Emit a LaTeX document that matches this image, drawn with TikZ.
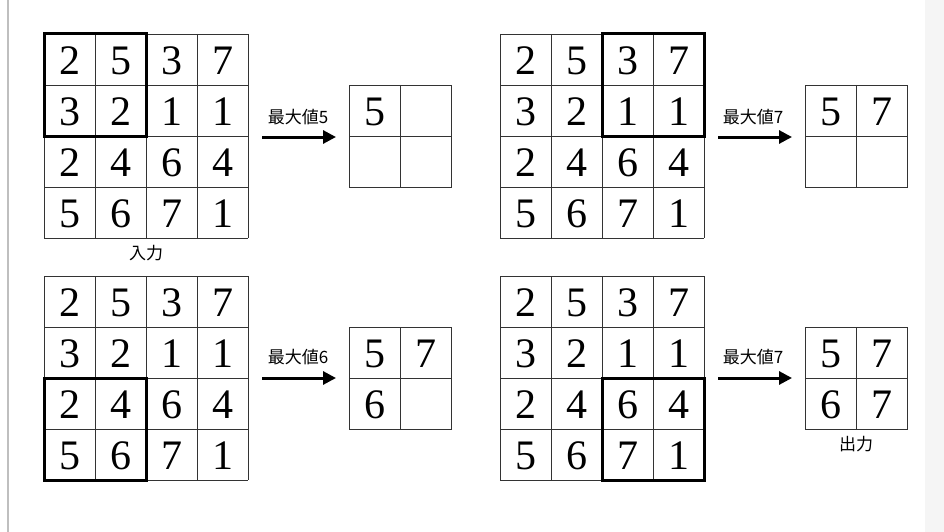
\documentclass[tikz,border=0pt]{standalone}
\usepackage{fontspec}
\setmainfont{Liberation Serif}
\newfontfamily\cjk{Noto Sans CJK JP}
\usetikzlibrary{arrows.meta}
\begin{document}
\begin{tikzpicture}[x=1pt,y=-1pt,
  thin grid/.style={draw=black!80,line width=0.9pt},
  thick box/.style={draw=black,line width=3pt},
  num/.style={font=\fontsize{42}{42}\selectfont,inner sep=0pt},
  lbl/.style={font=\cjk\fontsize{17}{17}\selectfont,inner sep=0pt},
  arr/.style={line width=3pt,-{Triangle[length=13pt,width=13pt]}}]
\useasboundingbox (0,0) rectangle (944,532);
\fill[black!4] (925,0) rectangle (944,532);
\draw[black!25,line width=2pt] (8,0) -- (8,532);
% grid macro
\def\grid#1#2#3{%
  \foreach \r [count=\i from 0] in {#3}{%
    \foreach \v [count=\j from 0] in \r {%
      \node[num] (g#1-\i-\j) at (#2+25.5+51*\j, 0) {};
    }}}
\newcommand\inputgrid[3]{% x0,y0,name
  \foreach \k in {0,...,4}{
    \draw[thin grid] (#1+51*\k,#2) -- (#1+51*\k,#2+204);
    \draw[thin grid] (#1,#2+51*\k) -- (#1+204,#2+51*\k);}
  \foreach \row [count=\i from 0] in {{2,5,3,7},{3,2,1,1},{2,4,6,4},{5,6,7,1}}{
    \foreach \v [count=\j from 0] in \row {
      \node[num] (#3-\i-\j) at (#1+25.5+51*\j,#2+27+51*\i) {\v};}}
}
\newcommand\outgrid[7]{% x0,y0,name,a,b,c,d
  \draw[thin grid] (#1,#2) rectangle (#1+102,#2+102);
  \draw[thin grid] (#1+51,#2) -- (#1+51,#2+102);
  \draw[thin grid] (#1,#2+51) -- (#1+102,#2+51);
  \node[num] (#3-a) at (#1+25.5,#2+27) {#4};
  \node[num] (#3-b) at (#1+76.5,#2+27) {#5};
  \node[num] (#3-c) at (#1+25.5,#2+78) {#6};
  \node[num] (#3-d) at (#1+76.5,#2+78) {#7};
}
% top-left
\inputgrid{44}{34}{A}
\draw[thick box] (44,34) rectangle (146,136);
\outgrid{349}{85}{OA}{5}{}{}{}
\coordinate (sa) at (262,137); \coordinate (ea) at (336,137);
\draw[arr] (sa) -- (ea);
\node[lbl] (la) at (298,117) {最大値5};
\node[lbl] (in) at (146,253) {入力};
% top-right
\inputgrid{500}{34}{B}
\draw[thick box] (602,34) rectangle (704,136);
\outgrid{805}{85}{OB}{5}{7}{}{}
\coordinate (sb) at (718,137); \coordinate (eb) at (792,137);
\draw[arr] (sb) -- (eb);
\node[lbl] (lb) at (753,117) {最大値7};
% bottom-left
\inputgrid{44}{276}{C}
\draw[thick box] (44,378) rectangle (146,480);
\outgrid{349}{327}{OC}{5}{7}{6}{}
\coordinate (sc) at (262,378); \coordinate (ec) at (336,378);
\draw[arr] (sc) -- (ec);
\node[lbl] (lc) at (298,357) {最大値6};
% bottom-right
\inputgrid{500}{276}{D}
\draw[thick box] (602,378) rectangle (704,480);
\outgrid{805}{327}{OD}{5}{7}{6}{7}
\coordinate (sd) at (718,378); \coordinate (ed) at (792,378);
\draw[arr] (sd) -- (ed);
\node[lbl] (ld) at (753,357) {最大値7};
\node[lbl] (out) at (856,444) {出力};
\end{tikzpicture}
\end{document}
